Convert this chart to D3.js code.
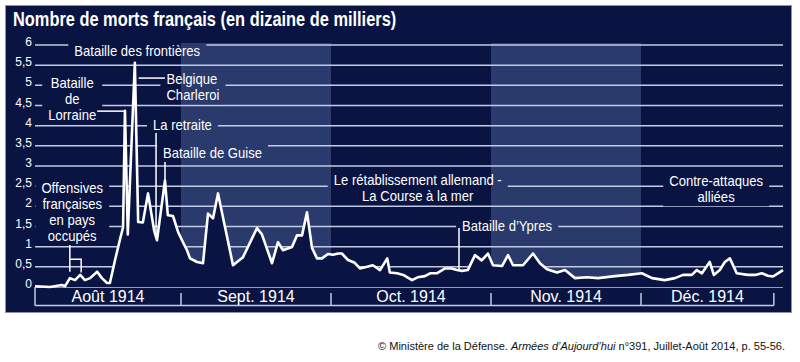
<!DOCTYPE html>
<html lang="fr">
<head>
<meta charset="UTF-8">
<title>Nombre de morts français 1914</title>
<style>
  body { margin: 0; background: #ffffff; }
  svg text { font-family: "Liberation Sans", Arial, sans-serif; }
</style>
</head>
<body>
<div id="content"></div>
<script src="https://cdn.jsdelivr.net/npm/d3@7"></script>
<script>
// jours comptés depuis le 1er août 1914
var monthLabels = ["Août 1914", "Sept. 1914", "Oct. 1914", "Nov. 1914", "Déc. 1914"];
var monthStarts = [0, 31, 61, 92, 122];
var periodEnd = 151;
var shadedMonths = [1, 3];
var yTicks = [0, 0.5, 1, 1.5, 2, 2.5, 3, 3.5, 4, 4.5, 5, 5.5, 6];

// [jour, morts en dizaines de milliers]
var morts = [
    [0, 0.02], [3.2, 0.0], [5.7, 0.05], [6.4, 0.02], [7.4, 0.22], [8.5, 0.17], [9.6, 0.30],
    [10.6, 0.17], [11.7, 0.22], [13.2, 0.38], [14.2, 0.22], [15.3, 0.10], [15.9, 0.10],
    [17.0, 0.67], [18.0, 1.16], [18.7, 1.48], [19.1, 4.37], [19.7, 1.30], [21.2, 5.56],
    [21.9, 1.61], [22.9, 1.60], [24.0, 2.32], [25.3, 1.40], [25.9, 1.16], [27.6, 2.64],
    [28.2, 1.78], [29.3, 1.76], [30.4, 1.36],
    [31.2, 1.16], [32.2, 0.91], [32.8, 0.71], [34.2, 0.62], [35.4, 0.59], [36.4, 1.82],
    [37.4, 1.70], [38.4, 2.32], [41.4, 0.54], [43.4, 0.74], [46.2, 1.46], [47.2, 1.30],
    [49.2, 0.59], [50.4, 1.11], [51.4, 0.91], [53.2, 0.99], [54.2, 1.28], [55.2, 1.28],
    [56.2, 1.85], [57.2, 0.97], [58.2, 0.71], [59.2, 0.71], [60.4, 0.82],
    [61.4, 0.80], [62.4, 0.83], [63.1, 0.83], [64.3, 0.67], [65.6, 0.60], [66.6, 0.46],
    [68.0, 0.50], [69.1, 0.54], [70.5, 0.42], [71.9, 0.71], [72.4, 0.36], [73.8, 0.34],
    [75.0, 0.30], [76.7, 0.17], [77.8, 0.24], [79.2, 0.27], [80.2, 0.34], [81.5, 0.34],
    [83.1, 0.46], [84.4, 0.46], [85.4, 0.42], [86.4, 0.40], [87.5, 0.42], [88.9, 0.79],
    [90.2, 0.66], [91.4, 0.83],
    [92.4, 0.54], [94.2, 0.52], [95.4, 0.79], [96.4, 0.54], [98.4, 0.54], [100.4, 0.83],
    [101.8, 0.59], [103.2, 0.44], [105.2, 0.36], [106.8, 0.42], [108.8, 0.22], [111.2, 0.24],
    [113.4, 0.22], [116.8, 0.27], [119.4, 0.30],
    [122.2, 0.34], [124.4, 0.22], [127.2, 0.17], [129.4, 0.22], [131.2, 0.30], [133.1, 0.30],
    [134.2, 0.42], [135.3, 0.34], [137.0, 0.62], [137.9, 0.30], [139.2, 0.42], [140.3, 0.62],
    [141.4, 0.71], [142.9, 0.34], [145.3, 0.30], [146.9, 0.30], [148.4, 0.34], [149.7, 0.28],
    [150.8, 0.26], [151.9, 0.34], [153.0, 0.42]
];

var annotations = [
    { lines: ["Bataille des frontières"], day: 21.7, val: 5.72, anchor: "middle" },
    { lines: ["Bataille", "de", "Lorraine"], day: 7.9, val: 4.93, anchor: "middle" },
    { lines: ["Belgique", "Charleroi"], day: 27.9, val: 5.03, anchor: "start" },
    { lines: ["La retraite"], day: 25.05, val: 3.89, anchor: "start" },
    { lines: ["Bataille de Guise"], day: 27.2, val: 3.2, anchor: "start" },
    { lines: ["Offensives", "françaises", "en pays", "occupés"], day: 7.9, val: 2.33, anchor: "middle" },
    { lines: ["Le rétablissement allemand -", "La Course à la mer"], day: 77.8, val: 2.53, anchor: "middle" },
    { lines: ["Contre-attaques", "alliées"], day: 138.4, val: 2.5, anchor: "middle" },
    { lines: ["Bataille d’Ypres"], day: 86.4, val: 1.39, anchor: "start" }
];

var leaders = [
    [[13.2, 4.36], [19.1, 4.36]],
    [[22.0, 5.18], [27.6, 5.18]],
    [[25.7, 3.82], [25.7, 1.22]],
    [[27.6, 3.10], [27.6, 2.64]],
    [[85.8, 1.46], [85.8, 0.42]],
    [[7.4, 1.04], [7.4, 0.38]],
    [[7.4, 0.69], [9.8, 0.69], [9.8, 0.36]]
];

var bg = "#0a1443", band = "#2b3a6c", gridColor = "#c3cae4";
var narrow = 0.935;   // police étroite simulée

var svg = d3.select("#content").append("svg")
    .attr("width", 800)
    .attr("height", 362);

var x = d3.scaleLinear()
    .domain(monthStarts.concat([153]))
    .range([35, 181, 331, 491, 641, 783]);

var y = d3.scaleLinear()
    .domain([0, 6])
    .range([287, 45]);

var y0 = y(0);

// panneau
svg.append("rect")
    .attr("x", 5.5).attr("y", 5.5)
    .attr("width", 786).attr("height", 307)
    .attr("fill", bg)
    .attr("stroke", "#8e93a6");

svg.append("text")
    .attr("transform", "translate(13,26) scale(0.82,1)")
    .attr("fill", "#fff")
    .style("font-size", "20px")
    .style("font-weight", "bold")
    .text("Nombre de morts français (en dizaine de milliers)");

// bandes des mois pairs
svg.selectAll(".band")
    .data(shadedMonths)
    .enter()
    .append("rect")
    .attr("class", "band")
    .attr("x", function (i) { return x(monthStarts[i]); })
    .attr("width", function (i) { return x(monthStarts[i + 1]) - x(monthStarts[i]); })
    .attr("y", y(6) - 2)
    .attr("height", y0 - y(6) + 2)
    .attr("fill", band);

var mask = svg.append("defs").append("mask")
    .attr("id", "gridMask")
    .attr("maskUnits", "userSpaceOnUse")
    .attr("x", 0).attr("y", 0).attr("width", 800).attr("height", 362);
mask.append("rect")
    .attr("width", 800).attr("height", 362)
    .attr("fill", "#fff");

svg.append("g")
    .attr("mask", "url(#gridMask)")
    .selectAll("line")
    .data(yTicks)
    .enter()
    .append("line")
    .attr("x1", x(0))
    .attr("x2", x(153))
    .attr("y1", function (d) { return y(d); })
    .attr("y2", function (d) { return y(d); })
    .attr("stroke", gridColor)
    .attr("stroke-width", 1.5);

svg.append("g")
    .selectAll("text")
    .data(yTicks)
    .enter()
    .append("text")
    .attr("x", 32)
    .attr("y", function (d) { return y(d) + 1; })
    .attr("text-anchor", "end")
    .attr("fill", "#fff")
    .style("font-size", "12px")
    .text(function (d) { return String(d).replace(".", ","); });

// courbe
var area = d3.area()
    .x(function (d) { return x(d[0]); })
    .y0(y0)
    .y1(function (d) { return y(d[1]); });

var line = d3.line()
    .x(function (d) { return x(d[0]); })
    .y(function (d) { return y(d[1]); });

svg.append("path")
    .datum(morts)
    .attr("d", area)
    .attr("fill", bg);

svg.append("path")
    .datum(morts)
    .attr("d", line)
    .attr("fill", "none")
    .attr("stroke", "#fff")
    .attr("stroke-width", 2.6)
    .attr("stroke-linejoin", "round");

svg.append("g")
    .selectAll("path")
    .data(leaders)
    .enter()
    .append("path")
    .attr("d", line)
    .attr("fill", "none")
    .attr("stroke", "#fff")
    .attr("stroke-width", 1.5);

// annotations
var notes = svg.append("g")
    .selectAll("g")
    .data(annotations)
    .enter()
    .append("g");

notes.selectAll("text")
    .data(function (d) { return d.lines.map(function (l) { return { t: l, d: d }; }); })
    .enter()
    .append("text")
    .attr("transform", function (l, i) {
        return "translate(" + x(l.d.day) + "," + (y(l.d.val) + 16 * i) + ") scale(" + narrow + ",1)";
    })
    .attr("text-anchor", function (l) { return l.d.anchor; })
    .attr("fill", "#fff")
    .style("font-size", "14px")
    .text(function (l) { return l.t; });

var origin = svg.node().getBoundingClientRect();
notes.each(function () {
    var b = this.getBoundingClientRect();
    mask.append("rect")
        .attr("x", b.left - origin.left - 6).attr("y", b.top - origin.top - 1)
        .attr("width", b.width + 12).attr("height", b.height + 2)
        .attr("fill", "#000");
});

// cases des mois
var edges = monthStarts.concat([periodEnd]);
var axis = svg.append("g")
    .attr("stroke", gridColor)
    .attr("stroke-width", 1.5);

axis.append("line")
    .attr("x1", x(0)).attr("x2", x(0))
    .attr("y1", y0).attr("y2", y0 + 18.5);

axis.append("line")
    .attr("x1", x(0)).attr("x2", x(periodEnd))
    .attr("y1", y0 + 18.5).attr("y2", y0 + 18.5);

axis.selectAll(".sep")
    .data(edges.slice(1))
    .enter()
    .append("line")
    .attr("x1", function (d) { return x(d); })
    .attr("x2", function (d) { return x(d); })
    .attr("y1", y0 + 6).attr("y2", y0 + 18.5);

svg.append("g")
    .selectAll("text")
    .data(monthLabels)
    .enter()
    .append("text")
    .attr("x", function (d, i) { return (x(edges[i]) + x(edges[i + 1])) / 2; })
    .attr("y", y0 + 14.5)
    .attr("text-anchor", "middle")
    .attr("fill", "#fff")
    .style("font-size", "16px")
    .text(function (d) { return d; });

// source
var credit = svg.append("text")
    .attr("x", 785).attr("y", 350)
    .attr("text-anchor", "end")
    .attr("fill", "#111")
    .style("font-size", "11px");
credit.append("tspan").text("© Ministère de la Défense. ");
credit.append("tspan").style("font-style", "italic").text("Armées d’Aujourd’hui");
credit.append("tspan").text(" n°391, Juillet-Août 2014, p. 55-56.");
</script>
</body>
</html>
